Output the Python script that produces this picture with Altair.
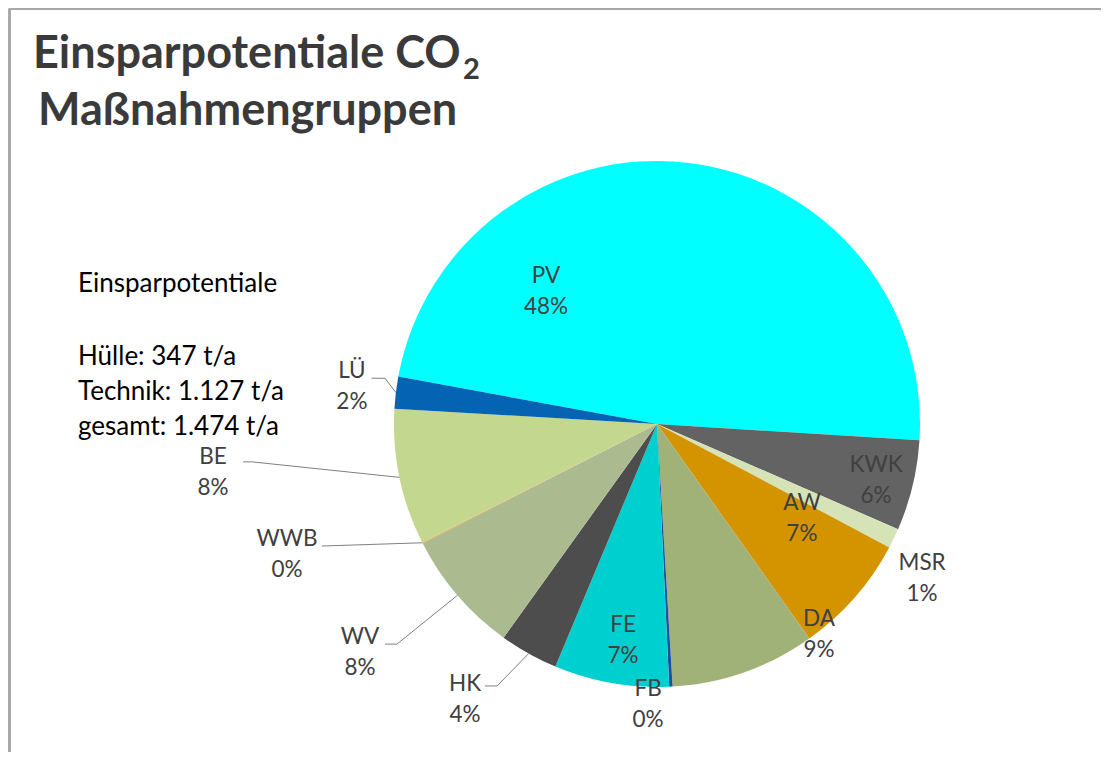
import altair as alt
import pandas as pd
import numpy as np

# ---------------- data ----------------
categories = ["PV", "KWK", "MSR", "AW", "DA", "FB", "FE", "HK", "WV", "WWB", "BE", "LÜ"]
values_t = [709, 82, 18, 109, 131, 3, 104, 53, 112, 1, 123, 29]   # t/a CO2
huelle_t = 347
technik_t = 1127
gesamt_t = 1474

# ---------------- style / layout ----------------
colors = ["#00FFFF", "#636363", "#D5E3B6", "#D49400", "#A0B277", "#1F4E9C",
          "#00CFCF", "#4D4D4D", "#ACBA90", "#E2B458", "#C3D78F", "#0563B4"]
W, H = 1093, 744
CX, CY = 649, 416          # pie centre (chart pixels)
R = 263                    # pie radius
START_DEG = 280.4          # angle of first slice (clockwise from 12 o'clock)
FONT = "Lato"
TXT = "#404040"

# label block centres, in radius units relative to the pie centre
label_pos = {
    "PV": (-0.422, -0.502), "KWK": (0.833, 0.213), "AW": (0.551, 0.361),
    "MSR": (1.008, 0.589), "DA": (0.616, 0.802), "FB": (-0.034, 1.068),
    "FE": (-0.129, 0.825), "HK": (-0.730, 1.046), "WV": (-1.129, 0.867),
    "WWB": (-1.407, 0.498), "BE": (-1.688, 0.186), "LÜ": (-1.160, -0.141),
}
# leader line start and elbow, radius units relative to the pie centre
leader = {
    "LÜ": [(-1.085, -0.174), (-1.034, -0.174)],
    "BE": [(-1.574, 0.144), (-1.540, 0.144)],
    "WWB": [(-1.274, 0.464), (-1.274, 0.464)],
    "WV": [(-1.034, 0.837), (-0.989, 0.837)],
    "HK": [(-0.654, 0.996), (-0.608, 0.996)],
}

# ---------------- derived tables ----------------
vals = np.array(values_t, dtype=float)
frac = vals / vals.sum()
cum = np.concatenate([[0.0], np.cumsum(frac)])
a0 = np.radians(START_DEG) + 2 * np.pi * cum[:-1]
a1 = np.radians(START_DEG) + 2 * np.pi * cum[1:]
mid = (a0 + a1) / 2

pie = pd.DataFrame({
    "cat": categories, "t0": a0, "t1": a1, "cx": CX, "cy": CY,
    "order": range(len(categories)),
})

lab_rows = []
for c, f in zip(categories, frac):
    dx, dy = label_pos[c]
    lab_rows.append({"cat": c, "pct": f"{int(f * 100 + 0.5)}%",
                     "x": CX + dx * R, "y": CY + dy * R})
labels = pd.DataFrame(lab_rows)

line_rows = []
for i, c in enumerate(categories):
    if c in leader:
        pts = leader[c] + [(np.sin(mid[i]), -np.cos(mid[i]))]
        for k, (dx, dy) in enumerate(pts):
            line_rows.append({"cat": c, "k": k, "x": CX + dx * R, "y": CY + dy * R})
lines = pd.DataFrame(line_rows)


def de(n):
    return f"{n:,}".replace(",", ".")


info = pd.DataFrame({
    "text": ["Einsparpotentiale", f"Hülle: {de(huelle_t)} t/a",
             f"Technik: {de(technik_t)} t/a", f"gesamt: {de(gesamt_t)} t/a"],
    "x": [70, 70, 70, 70],
    "y": [284, 357, 392, 427],
})
title = pd.DataFrame({"text": ["Einsparpotentiale CO", "Maßnahmengruppen"],
                      "x": [25, 30], "y": [60, 117]})
title_sub = pd.DataFrame({"text": ["2"], "x": [455], "y": [71]})

xs = alt.Scale(domain=[0, W], range=[0, W])
ys = alt.Scale(domain=[0, H], range=[0, H])
X = lambda f: alt.X(f, type="quantitative", scale=xs, axis=None)
Y = lambda f: alt.Y(f, type="quantitative", scale=ys, axis=None)

arcs = alt.Chart(pie).mark_arc(outerRadius=R, stroke=None).encode(
    x=X("cx"), y=Y("cy"),
    theta=alt.Theta("t0:Q", scale=None, stack=None),
    theta2="t1:Q",
    color=alt.Color("cat:N", scale=alt.Scale(domain=categories, range=colors), legend=None),
)

lead = alt.Chart(lines).mark_line(color="#7F7F7F", strokeWidth=1).encode(
    x=X("x"), y=Y("y"), detail="cat:N", order="k:Q")

name_txt = alt.Chart(labels).mark_text(font=FONT, fontSize=22.5, color=TXT, dy=-15.5,
                                       baseline="middle", align="center").encode(
    x=X("x"), y=Y("y"), text="cat:N")
pct_txt = alt.Chart(labels).mark_text(font=FONT, fontSize=22.5, color=TXT, dy=15.5,
                                      baseline="middle", align="center").encode(
    x=X("x"), y=Y("y"), text="pct:N")

info_txt = alt.Chart(info).mark_text(font=FONT, fontSize=26, color="#000000",
                                     align="left", baseline="alphabetic").encode(
    x=X("x"), y=Y("y"), text="text:N")

title_txt = alt.Chart(title).mark_text(font=FONT, fontSize=45, fontWeight="bold",
                                       color="#3A3A3A", align="left",
                                       baseline="alphabetic").encode(
    x=X("x"), y=Y("y"), text="text:N")
title_sub_txt = alt.Chart(title_sub).mark_text(font=FONT, fontSize=29, fontWeight="bold",
                                               color="#3A3A3A", align="left",
                                               baseline="alphabetic").encode(
    x=X("x"), y=Y("y"), text="text:N")

frame_top = alt.Chart(pie).mark_rule(color="#A6A6A6", strokeWidth=1.5).encode(
    x=alt.value(1.5), x2=alt.value(W), y=alt.value(0.75))
frame_left = alt.Chart(pie).mark_rule(color="#A6A6A6", strokeWidth=1.5).encode(
    x=alt.value(1.5), y=alt.value(0.75), y2=alt.value(H))

chart = alt.layer(arcs, lead, name_txt, pct_txt, info_txt, title_txt, title_sub_txt,
                  frame_top, frame_left).properties(
    width=W, height=H, padding=0, autosize=alt.AutoSizeParams(type="none"),
    background="white",
).configure_view(stroke=None)

chart.save("out.html", embed_options={"renderer": "svg", "actions": False})
